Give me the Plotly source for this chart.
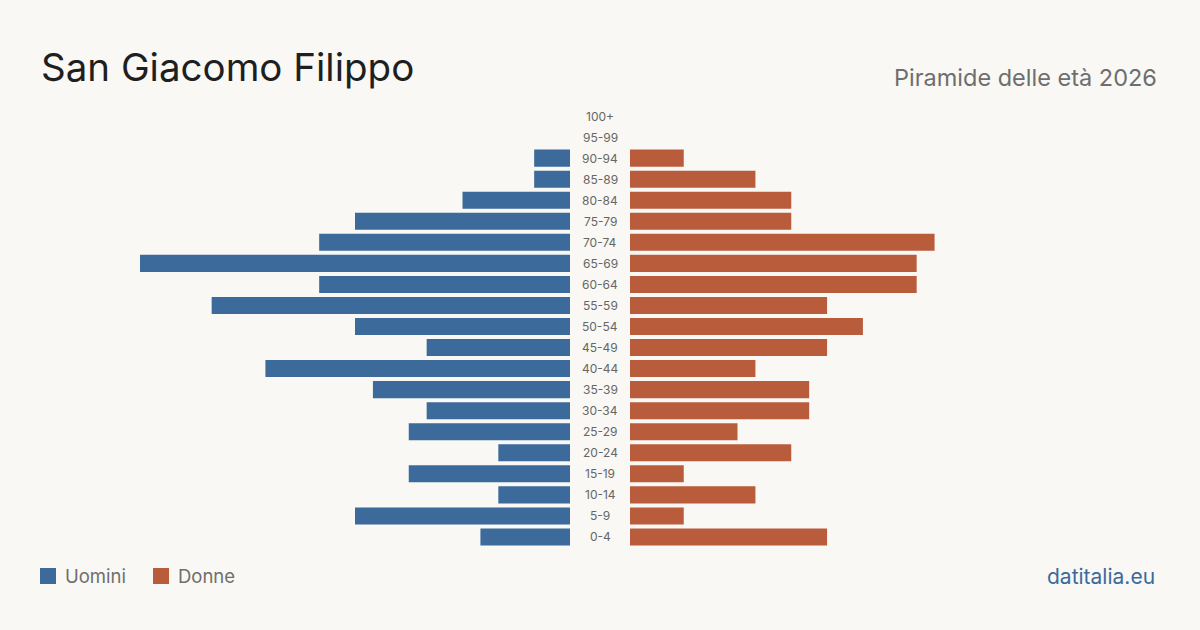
import plotly.graph_objects as go

age_groups = ["0-4", "5-9", "10-14", "15-19", "20-24", "25-29", "30-34", "35-39",
              "40-44", "45-49", "50-54", "55-59", "60-64", "65-69", "70-74", "75-79",
              "80-84", "85-89", "90-94", "95-99", "100+"]
men = [5, 12, 4, 9, 4, 9, 8, 11, 17, 8, 12, 20, 14, 24, 14, 12, 6, 2, 2, 0, 0]
women = [11, 3, 7, 3, 9, 6, 10, 10, 7, 11, 13, 11, 16, 16, 17, 9, 9, 7, 3, 0, 0]

BLUE = "#3b6a9b"
ORANGE = "#b95c3c"
BG = "#f9f8f4"
FONT = "Inter"

fig = go.Figure()
fig.add_trace(go.Bar(y=age_groups, x=men, orientation="h", marker_color=BLUE,
                     marker_line_width=0,
                     xaxis="x", yaxis="y", name="Uomini", showlegend=False,
                     hovertemplate="%{y}: %{x}<extra>Uomini</extra>"))
fig.add_trace(go.Bar(y=age_groups, x=women, orientation="h", marker_color=ORANGE,
                     marker_line_width=0,
                     xaxis="x2", yaxis="y", name="Donne", showlegend=False,
                     hovertemplate="%{y}: %{x}<extra>Donne</extra>"))

H = 630.0
W = 1200.0
ydom = [1 - 547.5 / H, 1 - 105.5 / H]
xmax = 24

fig.update_layout(
    width=1200, height=630,
    margin=dict(l=0, r=0, t=0, b=0),
    paper_bgcolor=BG, plot_bgcolor=BG,
    bargap=0.19,
    font=dict(family=FONT),
    xaxis=dict(domain=[140 / W, 570 / W], range=[xmax, 0], visible=False, fixedrange=True),
    xaxis2=dict(domain=[630 / W, 1060 / W], range=[0, xmax], visible=False, fixedrange=True),
    yaxis=dict(domain=ydom, categoryorder="array", categoryarray=age_groups,
               range=[-0.5, len(age_groups) - 0.5], visible=False, fixedrange=True),
)

annotations = []
for g in age_groups:
    annotations.append(dict(x=600 / W, xref="paper", y=g, yref="y", text=g, showarrow=False,
                            xanchor="center", yanchor="middle",
                            font=dict(size=12, color="#666666", family=FONT)))
annotations += [
    dict(x=39 / W, y=1 - 67 / H, xref="paper", yref="paper", text="San Giacomo Filippo",
         showarrow=False, xanchor="left", yanchor="middle",
         font=dict(size=38.5, color="#1f1f1f", family=FONT)),
    dict(x=1159 / W, y=1 - 77 / H, xref="paper", yref="paper", text="Piramide delle età 2026",
         showarrow=False, xanchor="right", yanchor="middle",
         font=dict(size=23.5, color="#6e6e6e", family=FONT)),
    dict(x=63 / W, y=1 - 576 / H, xref="paper", yref="paper", text="Uomini",
         showarrow=False, xanchor="left", yanchor="middle",
         font=dict(size=18.5, color="#6e6e6e", family=FONT)),
    dict(x=176 / W, y=1 - 576 / H, xref="paper", yref="paper", text="Donne",
         showarrow=False, xanchor="left", yanchor="middle",
         font=dict(size=18.5, color="#6e6e6e", family=FONT)),
    dict(x=1157 / W, y=1 - 576 / H, xref="paper", yref="paper", text="datitalia.eu",
         showarrow=False, xanchor="right", yanchor="middle",
         font=dict(size=21, color="#3b6a9b", family=FONT)),
]
fig.update_layout(annotations=annotations)

fig.update_layout(shapes=[
    dict(type="rect", xref="paper", yref="paper", x0=40 / W, x1=56 / W,
         y0=1 - 584 / H, y1=1 - 568 / H, fillcolor=BLUE, line_width=0),
    dict(type="rect", xref="paper", yref="paper", x0=153 / W, x1=169 / W,
         y0=1 - 584 / H, y1=1 - 568 / H, fillcolor=ORANGE, line_width=0),
])

fig.write_html("out.html", config={"displayModeBar": False})
